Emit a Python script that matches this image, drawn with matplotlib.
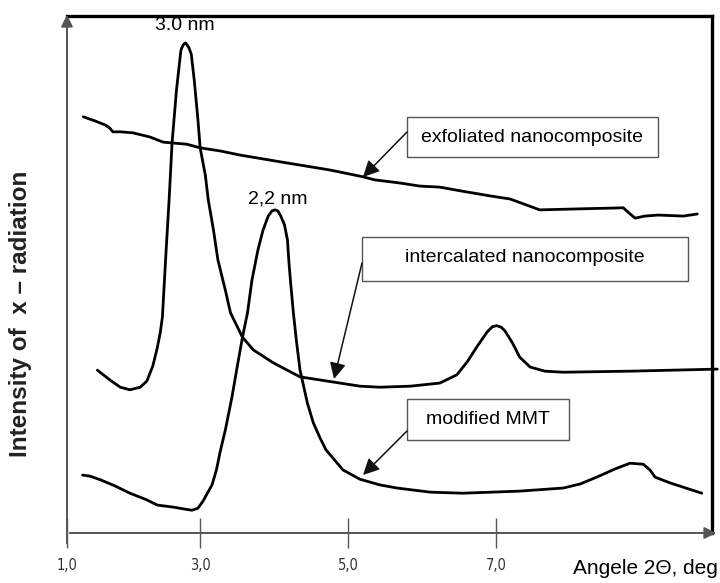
import matplotlib
matplotlib.use('Agg')
import matplotlib.pyplot as plt
from matplotlib import font_manager
from matplotlib.patches import Rectangle, FancyArrowPatch

# ---------------- data (2Theta in deg, intensity in arbitrary units) ----------------
intercal_x = [1.61, 1.78, 1.92, 2.05, 2.19, 2.28, 2.36, 2.42, 2.46, 2.49, 2.51, 2.54, 2.58,
              2.62, 2.68, 2.74, 2.77, 2.80, 2.82, 2.85, 2.88, 2.92, 2.97, 3.00, 3.07, 3.11,
              3.18, 3.24, 3.34, 3.41, 3.57, 3.72, 3.99, 4.35, 4.80, 5.16, 5.43, 5.84,
              6.24, 6.47, 6.61, 6.74, 6.88, 6.95, 7.01, 7.07, 7.12, 7.22, 7.32, 7.46, 7.66,
              7.91, 8.81, 9.99]
intercal_y = [31.5, 29.6, 28.2, 27.7, 28.2, 29.4, 32.3, 35.8, 38.7, 41.8, 47.0, 54.7, 64.4,
              75.4, 85.7, 93.4, 94.4, 94.8, 94.5, 93.8, 92.6, 87.6, 79.9, 74.5, 69.2, 64.4,
              58.6, 52.8, 47.0, 42.6, 37.9, 35.4, 32.9, 30.2, 29.2, 28.4, 28.2, 28.4,
              29.0, 30.6, 33.1, 36.0, 38.9, 39.9, 40.1, 39.8, 39.1, 36.8, 34.0, 32.1, 31.3,
              31.1, 31.3, 31.7]

exfol_x = [1.42, 1.58, 1.72, 1.78, 1.82, 1.92, 2.09, 2.32, 2.50, 2.66, 2.82, 3.00, 3.27,
           3.54, 4.08, 4.76, 5.20, 5.36, 5.70, 5.97, 6.24, 6.51, 6.92, 7.19, 7.42, 7.59,
           8.14, 8.72, 8.78, 8.88, 9.01, 9.19, 9.53, 9.72]
exfol_y = [80.5, 79.7, 78.9, 78.3, 77.6, 77.6, 77.4, 76.6, 75.6, 75.4, 75.2, 74.5, 73.9,
           73.1, 71.8, 70.2, 68.9, 68.3, 67.7, 67.1, 66.9, 66.2, 65.2, 64.6, 63.4, 62.5,
           62.7, 62.9, 62.1, 60.9, 61.3, 61.5, 61.3, 61.7]

mmt_x = [1.41, 1.51, 1.65, 1.85, 2.05, 2.28, 2.42, 2.64, 2.80, 2.89, 2.97, 3.04, 3.09,
         3.16, 3.22, 3.27, 3.34, 3.43, 3.50, 3.57, 3.64, 3.70, 3.78, 3.85, 3.92, 3.97,
         4.01, 4.05, 4.09, 4.14, 4.18, 4.20, 4.22, 4.26, 4.30, 4.35, 4.45, 4.53, 4.62,
         4.70, 4.93, 5.16, 5.43, 5.66, 6.11, 6.55, 7.32, 7.91, 8.14, 8.36, 8.61, 8.81,
         8.99, 9.08, 9.15, 9.35, 9.78]
mmt_y = [11.2, 11.0, 10.3, 9.1, 7.7, 6.4, 5.4, 5.0, 4.6, 4.4, 4.8, 6.2, 7.5,
         9.3, 12.2, 15.7, 19.9, 26.3, 32.1, 37.7, 42.6, 48.9, 54.7, 58.6, 61.3, 62.3,
         62.5, 62.3, 61.3, 59.6, 56.7, 52.4, 48.9, 42.6, 37.3, 31.5, 25.1, 21.3, 18.4,
         16.1, 12.2, 10.4, 9.3, 8.7, 7.9, 7.7, 8.1, 8.7, 9.5, 10.8, 12.4, 13.5,
         13.3, 12.2, 10.8, 9.7, 7.7]

tick_pos = [1.2, 3.0, 5.0, 7.0]
tick_labels = ["1,0", "3,0", "5,0", "7,0"]

series_labels = ["exfoliated nanocomposite", "intercalated nanocomposite", "modified MMT"]
peak_labels = ["3.0 nm", "2,2 nm"]
xlabel = "Angele 2\u0398, deg"
ylabel = "Intensity of  x \u2013 radiation"

# ---------------- layout ----------------
W, H = 720, 583
plt.rcParams['font.family'] = ['Liberation Sans', 'DejaVu Sans']
fig = plt.figure(figsize=(7.2, 5.83), dpi=100)


def fx(px):
    return px / W


def fy(py):
    return 1 - py / H


names = {f.name for f in font_manager.fontManager.ttflist}
tick_font = dict(fontfamily='Liberation Sans', fontsize=11)
if 'Liberation Sans Narrow' in names:
    tick_font = dict(fontfamily='Liberation Sans Narrow', fontsize=11.5)
elif any(f.name == 'DejaVu Sans' and f.stretch == 'condensed' for f in font_manager.fontManager.ttflist):
    tick_font = dict(fontfamily='DejaVu Sans', fontstretch='condensed', fontsize=10.5)

L, R, T, B = 67, 712, 16, 533
ax = fig.add_axes([fx(L), fy(B), fx(R) - fx(L), fy(T) - fy(B)])
ax.set_xlim(1.2027, 3 + (R - 200) / 74)
ax.set_ylim(0, (B - T) / 5.17)
ax.patch.set_alpha(0)

lw = 2.0
for xs, ys in [(intercal_x, intercal_y), (exfol_x, exfol_y), (mmt_x, mmt_y)]:
    ax.plot(xs, ys, color='black', lw=lw, clip_on=False,
            solid_capstyle='round', solid_joinstyle='round')

for s in ['left', 'bottom']:
    ax.spines[s].set_visible(False)
for s in ['top', 'right']:
    ax.spines[s].set_color('black')
    ax.spines[s].set_linewidth(2.4)

ax.set_yticks([])
ax.set_xticks(tick_pos)
ax.set_xticklabels(tick_labels, color='#333333', **tick_font)
ax.tick_params(axis='x', direction='inout', length=22, width=1.0, color='#555555', pad=7)

# axis lines with arrows (figure coords)
fig.add_artist(FancyArrowPatch((fx(L), fy(546)), (fx(L), fy(12)),
               transform=fig.transFigure, arrowstyle='-|>,head_length=0.5,head_width=0.25',
               mutation_scale=14, color='#555555', lw=1.4))
fig.add_artist(FancyArrowPatch((fx(L), fy(B)), (fx(719), fy(B)),
               transform=fig.transFigure, arrowstyle='-|>,head_length=0.5,head_width=0.25',
               mutation_scale=14, color='#555555', lw=1.4))

# peak labels
fig.text(fx(185), fy(26), peak_labels[0], ha='center', va='center', fontsize=14)
fig.text(fx(278), fy(199), peak_labels[1], ha='center', va='center', fontsize=14)

# label boxes with arrows
boxes = [(407, 117, 658, 157), (362, 237, 688, 281), (407, 399, 569, 440)]
text_pos = [(532, 137), (525, 257), (488, 419)]
arrows = [((407, 132), (363, 177)), ((362, 263), (334, 379)), ((407, 431), (363, 475))]
for (x0, y0, x1, y1), (tx, ty), ((ax0, ay0), (ax1, ay1)), lab in zip(boxes, text_pos, arrows, series_labels):
    fig.add_artist(Rectangle((fx(x0), fy(y1)), fx(x1) - fx(x0), fy(y0) - fy(y1),
                             transform=fig.transFigure, facecolor='white',
                             edgecolor='#555555', lw=1.0))
    fig.text(fx(tx), fy(ty), lab, ha='center', va='center', fontsize=14)
    fig.add_artist(FancyArrowPatch((fx(ax0), fy(ay0)), (fx(ax1), fy(ay1)),
                   transform=fig.transFigure, arrowstyle='-|>,head_length=0.7,head_width=0.35',
                   mutation_scale=14, color='#111111', lw=1.1, shrinkA=0, shrinkB=0))

fig.text(fx(645), fy(568), xlabel, ha='center', va='center', fontsize=15)
fig.text(fx(21), fy(314), ylabel, ha='center', va='center', fontsize=17.5,
         fontweight='bold', rotation=90, color='#222222')

fig.savefig('out.png', dpi=100)
